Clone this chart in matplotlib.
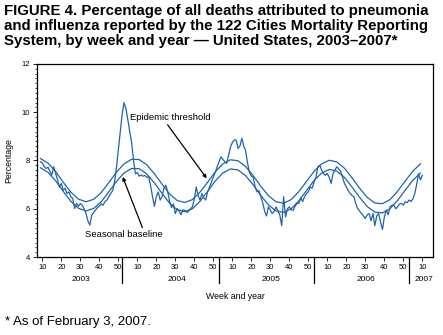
#Percentage of deaths from pneumonia and influenza, 122 Cities, by week 2003-2007
import matplotlib.pyplot as plt
import numpy as np

plt.rcParams['font.family'] = ['Liberation Sans', 'DejaVu Sans']

# observed weekly percentage, one value per week position starting at 9
observed = [7.95, 7.9, 7.75, 7.67, 7.72, 7.55, 7.4, 7.74, 7.47, 7.2,
            6.9, 7.05, 6.77, 6.85, 6.63, 6.7, 6.5, 6.43, 6.01, 6.22,
            6.1, 6.22, 6.15, 6.0, 5.8, 5.5, 5.32, 5.73, 5.85, 5.94,
            6.05, 6.1, 6.2, 6.15, 6.3, 6.36, 6.5, 6.63, 6.75, 7.1,
            7.7, 8.43, 9.2, 9.9, 10.4, 10.15, 9.7, 9.2, 8.75, 8.0,
            7.45, 7.5, 7.35, 7.4, 7.35, 7.38, 7.3, 7.32, 6.95, 6.5,
            6.1, 6.5, 6.7, 6.36, 6.5, 6.85, 6.98, 6.7, 6.3, 6.05,
            6.2, 5.8, 6.01, 5.9, 5.75, 5.95, 5.94, 5.85, 5.9, 6.0,
            6.08, 6.4, 6.9, 6.55, 6.36, 6.63, 6.45, 6.36, 6.7, 6.9,
            7.1, 7.32, 7.5, 7.74, 7.95, 8.15, 8.05, 7.95, 7.88, 8.2,
            8.55, 8.75, 8.85, 8.85, 8.5, 8.6, 8.92, 8.6, 8.4, 7.9,
            7.5, 7.35, 7.3, 6.9, 6.7, 6.75, 6.5, 6.25, 5.9, 5.7,
            6.08, 5.95, 5.8, 5.9, 6.08, 5.9, 5.73, 5.3, 6.5, 5.66,
            6.0, 6.08, 5.95, 5.94, 6.1, 6.22, 6.22, 6.45, 6.3, 6.5,
            6.63, 6.7, 6.9, 6.85, 7.1, 7.3, 7.74, 7.8, 7.6, 7.45,
            7.39, 7.46, 7.3, 7.05, 7.46, 7.6, 7.74, 7.65, 7.55, 7.3,
            7.05, 6.9, 6.75, 6.63, 6.55, 6.5, 6.2, 6.0, 5.9, 5.8,
            5.7, 5.6, 5.75, 5.8, 5.5, 5.8, 5.3, 5.7, 5.8, 5.45,
            5.14, 5.66, 5.94, 5.75, 6.08, 6.15, 6.15, 6.0, 6.08, 6.2,
            6.22, 6.15, 6.29, 6.25, 6.36, 6.3, 6.4, 6.63, 7.0, 7.45,
            7.2, 7.39]

# seasonal baseline and epidemic threshold, read every 4 week positions from 9
baseline = [7.70, 7.51, 7.16, 6.72, 6.31, 6.02, 5.91, 6.01, 6.29, 6.70,
            7.13, 7.48, 7.67, 7.66, 7.44, 7.07, 6.64, 6.23, 5.96, 5.88,
            6.00, 6.31, 6.72, 7.15, 7.48, 7.65, 7.61, 7.37, 6.99, 6.55,
            6.16, 5.91, 5.85, 6.00, 6.33, 6.75, 7.17, 7.48, 7.63, 7.56,
            7.30, 6.90, 6.47, 6.09, 5.86, 5.83, 6.00, 6.35, 6.77, 7.18,
            7.48]
threshold = [8.08, 7.89, 7.54, 7.10, 6.69, 6.40, 6.29, 6.39, 6.67, 7.08,
             7.51, 7.86, 8.05, 8.04, 7.82, 7.45, 7.02, 6.61, 6.34, 6.26,
             6.38, 6.69, 7.10, 7.53, 7.86, 8.03, 7.99, 7.75, 7.37, 6.93,
             6.54, 6.29, 6.23, 6.38, 6.71, 7.13, 7.55, 7.86, 8.01, 7.94,
             7.68, 7.28, 6.85, 6.47, 6.24, 6.21, 6.38, 6.73, 7.15, 7.56,
             7.86]

week_labels = ['10', '20', '30', '40', '50'] * 4 + ['10']
years = ['2003', '2004', '2005', '2006', '2007']
year_centers = [30.2, 80.7, 130.4, 180.4, 211]
year_breaks = [52.2, 103, 153.2, 203.2]

blue = '#1f63b0'

fig = plt.figure(figsize=(4.43, 3.35), dpi=100)
ax = fig.add_axes([0.0835, 0.2328, 0.8939, 0.5762])

x_obs = 9 + np.arange(len(observed))
x_base = 9 + 4 * np.arange(len(baseline))
ax.plot(x_obs, observed, color=blue, lw=0.9)
ax.plot(x_base, baseline, color=blue, lw=0.9)
ax.plot(x_base, threshold, color=blue, lw=0.9)

ax.set_xlim(7.2, 215.6)
ax.set_ylim(4, 12)
ax.set_yticks([4, 6, 8, 10, 12])
ax.set_yticks(np.arange(4, 12.01, 0.2), minor=True)
ax.set_xticks(np.arange(10, 211, 10))
ax.set_xticklabels(week_labels)
ax.tick_params(axis='both', labelsize=5.5, width=0.6, length=3, pad=2)
ax.tick_params(axis='y', which='minor', width=0.5, length=1.8)
for s in ax.spines.values():
    s.set_linewidth(0.9)

for b in year_breaks:
    ax.axvline(b, ymin=-0.135, ymax=0, color='black', lw=0.9, clip_on=False)
trans = ax.get_xaxis_transform()
for yr, c in zip(years, year_centers):
    ax.text(c, -0.115, yr, transform=trans, ha='center', va='center', fontsize=6)

ax.set_xlabel('Week and year', fontsize=6.3, labelpad=15)
ax.set_ylabel('Percentage', fontsize=6.3, labelpad=6)

ax.annotate('Epidemic threshold', xy=(96.5, 7.26), xytext=(56.2, 9.78),
            fontsize=6.8, va='center', ha='left',
            arrowprops=dict(arrowstyle='-|>', color='black', lw=0.9,
                            mutation_scale=5, shrinkA=0, shrinkB=0,
                            relpos=(0.44, 0)))
ax.annotate('Seasonal baseline', xy=(52.3, 7.32), xytext=(53, 4.92),
            fontsize=6.8, va='center', ha='center',
            arrowprops=dict(arrowstyle='-|>', color='black', lw=0.9,
                            mutation_scale=5, shrinkA=0, shrinkB=0,
                            relpos=(0.75, 1)))

fig.text(0.009, 0.988, 'FIGURE 4. Percentage of all deaths attributed to pneumonia\n'
         'and influenza reported by the 122 Cities Mortality Reporting\n'
         'System, by week and year \u2014 United States, 2003\u20132007*',
         fontsize=10.8, fontweight='bold', va='top', ha='left', linespacing=1.08)
fig.text(0.011, 0.04, '* As of February 3, 2007.', fontsize=9.5, va='center', ha='left')

plt.savefig('out.png', dpi=100)
